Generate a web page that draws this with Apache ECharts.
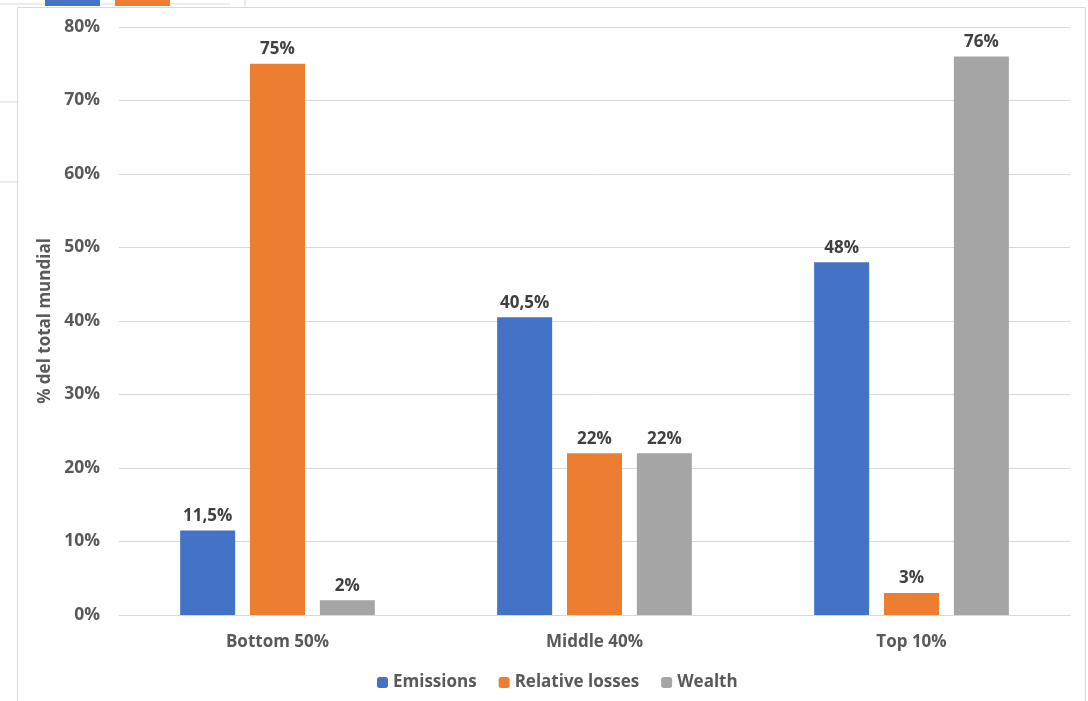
<!doctype html>
<html>
<head>
<meta charset="UTF-8">
<script src="https://cdn.jsdelivr.net/npm/echarts@6/dist/echarts.min.js"></script>
<style>
  html, body { margin: 0; padding: 0; background: #fff; }
  #chart { width: 1088px; height: 701px; }
</style>
</head>
<body>
<div id="chart"></div>
<script>
  // datos
  var categories = ['Bottom 50%', 'Middle 40%', 'Top 10%'];
  var emissions = [11.5, 40.5, 48];
  var relativeLosses = [75, 22, 3];
  var wealth = [2, 22, 76];
  var seriesNames = ['Emissions', 'Relative losses', 'Wealth'];
  var colors = ['#4472c4', '#ed7d31', '#a5a5a5'];

  var font = '"Open Sans", "Noto Sans", sans-serif';

  function fmt(p) {
    return String(p.value).replace('.', ',') + '%';
  }

  function makeSeries(name, data, color) {
    return {
      name: name,
      type: 'bar',
      data: data,
      barWidth: 55,
      barGap: '27%',
      itemStyle: { color: color },
      label: {
        show: true,
        position: 'top',
        distance: 6,
        formatter: fmt,
        color: '#404040',
        fontWeight: 'bold',
        fontSize: 17,
        fontFamily: font
      }
    };
  }

  var myChart = echarts.init(document.getElementById('chart'));
  var option = {
    animation: false,
    color: colors,
    textStyle: { fontFamily: font },
    grid: { left: 119, right: 18, top: 27, bottom: 86 },
    // restos del grafico de detras
    graphic: [
      { type: 'line', shape: { x1: 0, y1: 4, x2: 230, y2: 4 }, style: { stroke: '#d9d9d9', lineWidth: 1 } },
      { type: 'rect', shape: { x: 45, y: 0, width: 55, height: 6 }, style: { fill: '#4472c4' } },
      { type: 'rect', shape: { x: 115, y: 0, width: 55, height: 6 }, style: { fill: '#ed7d31' } },
      { type: 'line', shape: { x1: 245, y1: 0, x2: 245, y2: 7 }, style: { stroke: '#d9d9d9', lineWidth: 1 } },
      { type: 'line', shape: { x1: 0, y1: 102, x2: 17, y2: 102 }, style: { stroke: '#d9d9d9', lineWidth: 1 } },
      { type: 'line', shape: { x1: 0, y1: 182, x2: 17, y2: 182 }, style: { stroke: '#d9d9d9', lineWidth: 1 } },
      { type: 'rect', shape: { x: 17.5, y: 7.5, width: 1068, height: 700 }, style: { fill: 'none', stroke: '#d9d9d9', lineWidth: 1 } }
    ],
    legend: {
      left: 372,
      top: 669,
      itemWidth: 11,
      itemHeight: 11,
      itemGap: 22,
      data: seriesNames,
      textStyle: { color: '#595959', fontSize: 17, fontWeight: 'bold', fontFamily: font }
    },
    xAxis: {
      type: 'category',
      data: categories,
      axisTick: { show: false },
      axisLine: { lineStyle: { color: '#d9d9d9' } },
      axisLabel: { color: '#595959', fontSize: 17, fontWeight: 'bold', margin: 19, fontFamily: font }
    },
    yAxis: {
      type: 'value',
      min: 0,
      max: 80,
      interval: 10,
      name: '% del total mundial',
      nameLocation: 'middle',
      nameGap: 60,
      nameTextStyle: { color: '#595959', fontSize: 17, fontWeight: 'bold', fontFamily: font },
      axisLine: { show: false },
      axisTick: { show: false },
      splitLine: { lineStyle: { color: '#d9d9d9' } },
      axisLabel: { formatter: '{value}%', color: '#595959', fontSize: 17.5, fontWeight: 'bold', margin: 19, fontFamily: font }
    },
    series: [
      makeSeries(seriesNames[0], emissions, colors[0]),
      makeSeries(seriesNames[1], relativeLosses, colors[1]),
      makeSeries(seriesNames[2], wealth, colors[2])
    ]
  };
  myChart.setOption(option);
</script>
</body>
</html>
